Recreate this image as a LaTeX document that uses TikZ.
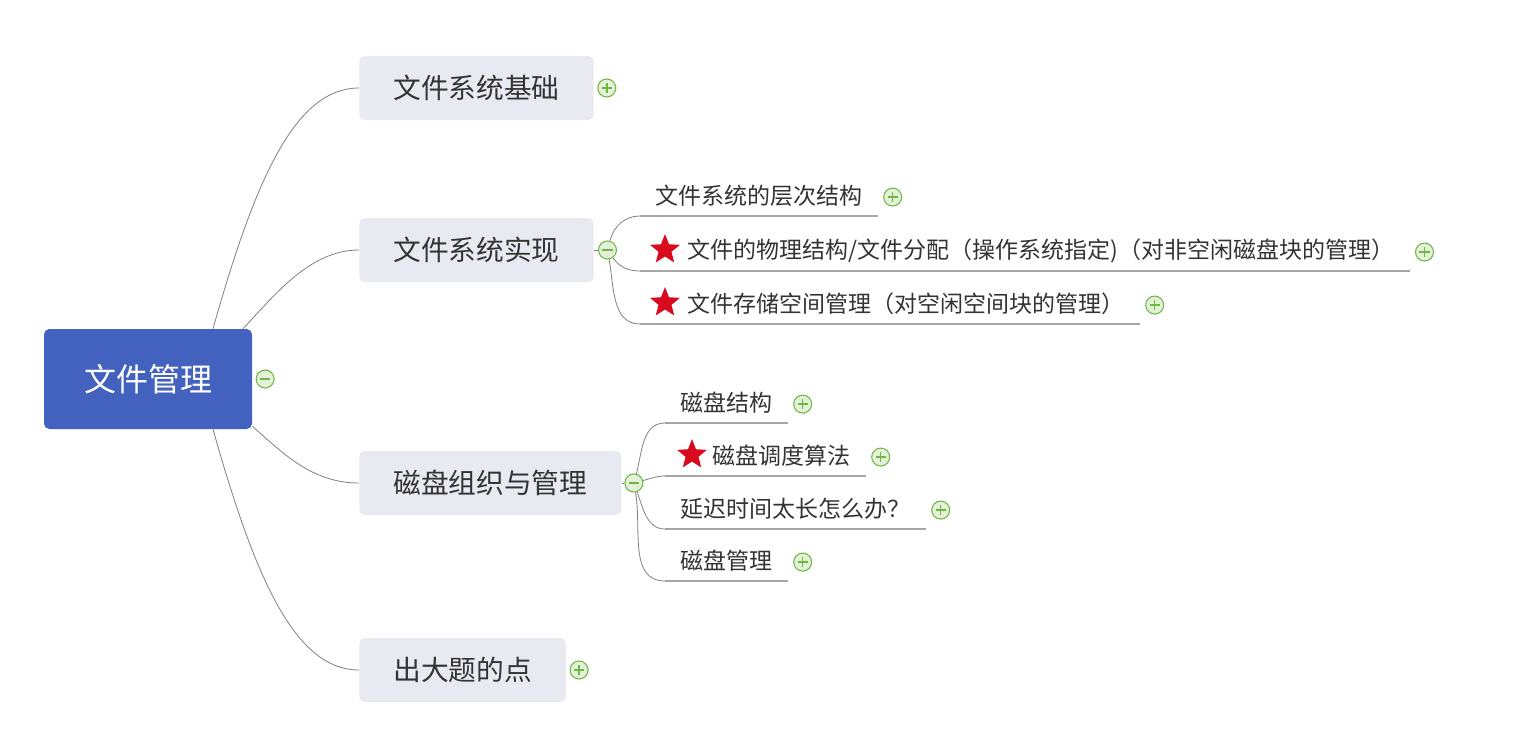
\documentclass[tikz,border=0pt]{standalone}
\usepackage{fontspec}
\setmainfont{Noto Sans CJK SC}
\usetikzlibrary{positioning,calc,shapes.geometric,backgrounds}

\definecolor{rootblue}{HTML}{4361BE}
\definecolor{boxgray}{HTML}{E9E9F2}
\definecolor{txtgray}{HTML}{333333}
\definecolor{linegray}{HTML}{808080}
\definecolor{ulgray}{HTML}{A6A6A6}
\definecolor{starred}{HTML}{DA0A1E}
\definecolor{mkgreen}{HTML}{6DB845}
\definecolor{mkfill}{HTML}{E4F1D8}

\begin{document}
\begin{tikzpicture}[x=0.75pt,y=0.75pt,
    root/.style={rectangle, rounded corners=4pt, fill=rootblue, text=white,
        minimum width=156pt, minimum height=75pt, font=\fontsize{24}{28}\selectfont},
    topic/.style={rectangle, rounded corners=4pt, fill=boxgray, text=txtgray, anchor=west,
        minimum height=48pt, inner xsep=25.5pt, font=\fontsize{20.8}{24}\selectfont},
    subtopic/.style={anchor=south west, minimum height=30pt, inner xsep=11.6pt, inner ysep=0pt,
        text=txtgray, font=\fontsize{17.25}{20}\selectfont},
    branch/.style={draw=linegray, line width=0.6pt},
    uline/.style={draw=ulgray, line width=1.5pt},
    redstar/.style={star, star points=5, star point ratio=2.3, fill=starred,
        minimum size=23.5pt, inner sep=0pt},
    foldbase/.style={circle, draw=mkgreen, fill=mkfill, line width=0.8pt,
        minimum size=13.5pt, inner sep=0pt},
    foldminus/.style={foldbase, path picture={
        \draw[mkgreen, line width=1.2pt] ([xshift=-3.8pt]path picture bounding box.center)
            -- ([xshift=3.8pt]path picture bounding box.center);}},
    foldplus/.style={foldbase, path picture={
        \draw[mkgreen, line width=1.2pt] ([xshift=-3.8pt]path picture bounding box.center)
            -- ([xshift=3.8pt]path picture bounding box.center);
        \draw[mkgreen, line width=1.2pt] ([yshift=-3.8pt]path picture bounding box.center)
            -- ([yshift=3.8pt]path picture bounding box.center);}}]
\def\starpad{\hspace*{24pt}}
\useasboundingbox (0,0) rectangle (1526,-728);

% root and first level
\node[root] (root) at (148,-379) {文件管理};
\node[foldminus, right=2.5pt of root] (mroot) {};
\node[topic] (base) at (359,-88) {文件系统基础};
\node[topic] (impl) at (359,-250) {文件系统实现};
\node[topic] (disk) at (359,-483) {磁盘组织与管理};
\node[topic] (exam) at (359,-670) {出大题的点};
\node[foldplus, right=2.5pt of base] (pbase) {};
\node[foldminus, right=3pt of impl] (mimpl) {};
\node[foldminus, right=2pt of disk] (mdisk) {};
\node[foldplus, right=2.5pt of exam] (pexam) {};

% second level: 文件系统实现
\node[subtopic] (impl1) at (640,-216) {文件系统的层次结构};
\node[subtopic] (impl2) at (640,-271) {\starpad 文件的物理结构/文件分配（操作系统指定)（对非空闲磁盘块的管理）};
\node[subtopic] (impl3) at (640,-324) {\starpad 文件存储空间管理（对空闲空间块的管理）};
\node[redstar] (simpl2) at ($(impl2.west)+(25,1)$) {};
\node[redstar] (simpl3) at ($(impl3.west)+(25,1)$) {};

% second level: 磁盘组织与管理
\node[subtopic] (disk1) at (665,-423) {磁盘结构};
\node[subtopic] (disk2) at (665,-476) {\starpad 磁盘调度算法};
\node[subtopic] (disk3) at (665,-529) {延迟时间太长怎么办？};
\node[subtopic] (disk4) at (665,-581) {磁盘管理};
\node[redstar] (sdisk2) at ($(disk2.west)+(27,1)$) {};

\foreach \n in {impl1,impl2,impl3,disk1,disk2,disk3,disk4}
    \node[foldplus, right=3.5pt of \n, yshift=-1pt] (p\n) {};

\begin{scope}[on background layer]
    \draw[branch] ($(root.north)+(65,0)$) .. controls +(42,149) and +(-64,0) .. (base.west);
    \draw[branch] ($(root.north)+(95,0)$) .. controls +(32,34) and +(-49,0) .. (impl.west);
    \draw[branch] ($(root.south east)+(0,3)$) .. controls +(28,-24) and +(-49,0) .. (disk.west);
    \draw[branch] ($(root.south)+(65,0)$) .. controls +(42,-149) and +(-64,0) .. (exam.west);
    \draw[branch] (impl.east) -- (mimpl);
    \draw[branch] (disk.east) -- (mdisk);
    \draw[branch] (mimpl) to[out=75,in=180] (impl1.south west);
    \draw[branch] (mimpl) to[out=-55,in=180] (impl2.south west);
    \draw[branch] (mimpl) to[out=-80,in=180] (impl3.south west);
    \draw[branch] (mdisk) to[out=75,in=180] (disk1.south west);
    \draw[branch] (mdisk) to[out=15,in=180] (disk2.south west);
    \draw[branch] (mdisk) to[out=-70,in=180] (disk3.south west);
    \draw[branch] (mdisk) to[out=-80,in=180] (disk4.south west);
\end{scope}

% underlines
\foreach \n in {impl1,impl2,impl3,disk1,disk2,disk3,disk4}
    \draw[uline] (\n.south west) -- (\n.south east);
\end{tikzpicture}
\end{document}
